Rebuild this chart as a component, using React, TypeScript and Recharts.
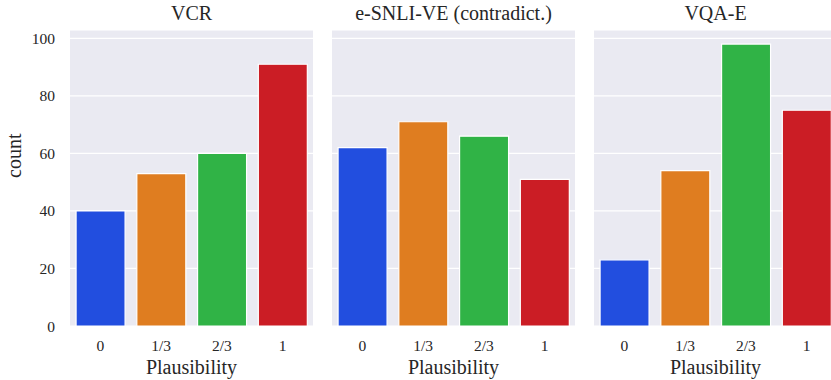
import { Bar, BarChart, CartesianGrid, Cell, XAxis, YAxis } from 'recharts';

const categories = ['0', '1/3', '2/3', '1'];
const panelTitles = ['VCR', 'e-SNLI-VE (contradict.)', 'VQA-E'];
const vcrCounts = [40, 53, 60, 91];
const esnliCounts = [62, 71, 66, 51];
const vqaCounts = [23, 54, 98, 75];
const yTicks = [0, 20, 40, 60, 80, 100];
const barColors = ['#224edf', '#df7d20', '#30b346', '#cb1d25'];

const FONT = '"Liberation Serif", "Times New Roman", "DejaVu Serif", serif';
const TEXT = '#262626';

interface PanelProps {
  title: string;
  counts: number[];
  left: number;
  showY: boolean;
}

function Panel({ title, counts, left, showY }: PanelProps) {
  const data = categories.map((c, i) => ({ plausibility: c, count: counts[i] }));
  const yWidth = showY ? 70 : 0;
  const width = yWidth + 243;
  return (
    <div style={{ position: 'absolute', left: left - yWidth, top: 0, width, height: 380 }}>
      <div
        style={{
          position: 'absolute',
          left: yWidth,
          width: 243,
          top: 2,
          textAlign: 'center',
          fontFamily: FONT,
          fontSize: 20,
          color: TEXT,
        }}
      >
        {title}
      </div>
      <BarChart
        width={width}
        height={380}
        data={data}
        margin={{ top: 30, right: 0, bottom: 0, left: 0 }}
        barCategoryGap="10%"
      >
        <CartesianGrid fill="#eaeaf2" stroke="#ffffff" strokeWidth={1.2} vertical={false} />
        <XAxis
          dataKey="plausibility"
          height={54}
          axisLine={false}
          tickLine={false}
          tickMargin={8}
          tick={{ fontFamily: FONT, fontSize: 15.5, fill: TEXT }}
          label={{ value: 'Plausibility', position: 'insideBottom', offset: 6, fontFamily: FONT, fontSize: 20, fill: TEXT }}
        />
        <YAxis
          hide={!showY}
          width={yWidth}
          domain={[0, 102.9]}
          ticks={yTicks}
          axisLine={false}
          tickLine={false}
          tickMargin={9}
          tick={{ fontFamily: FONT, fontSize: 15.5, fill: TEXT }}
          label={{ value: 'count', angle: -90, position: 'insideLeft', offset: 14, fontFamily: FONT, fontSize: 20, fill: TEXT }}
        />
        <Bar dataKey="count" stroke="#ffffff" strokeWidth={1.2} isAnimationActive={false}>
          {data.map((d, i) => (
            <Cell key={d.plausibility} fill={barColors[i]} />
          ))}
        </Bar>
      </BarChart>
    </div>
  );
}

export default function App() {
  const allCounts = [vcrCounts, esnliCounts, vqaCounts];
  const lefts = [70, 332, 594];
  return (
    <div
      style={{
        position: 'absolute',
        left: 0,
        top: 0,
        width: 831,
        height: 380,
        overflow: 'hidden',
        background: '#ffffff',
      }}
    >
      {panelTitles.map((t, i) => (
        <Panel key={t} title={t} counts={allCounts[i]} left={lefts[i]} showY={i === 0} />
      ))}
    </div>
  );
}
